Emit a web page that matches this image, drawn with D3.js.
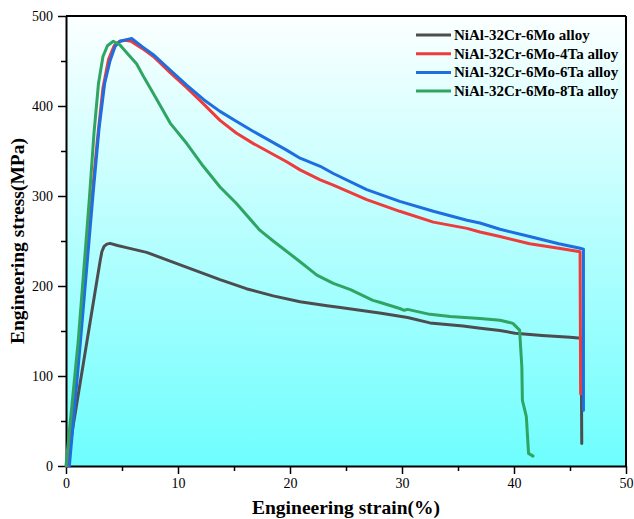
<!DOCTYPE html>
<html>
<head>
<meta charset="utf-8">
<script src="https://cdn.jsdelivr.net/npm/d3@7"></script>
<style>
  body { margin: 0; background: #fff; }
  text { font-family: "Liberation Serif", "Times New Roman", serif; }
</style>
</head>
<body>
<svg id="chart"></svg>
<script>
// series names (legend order)
const seriesNames = ['NiAl-32Cr-6Mo alloy', 'NiAl-32Cr-6Mo-4Ta alloy', 'NiAl-32Cr-6Mo-6Ta alloy', 'NiAl-32Cr-6Mo-8Ta alloy'];
const seriesColors = ['#4d4d4f', '#ef3b3b', '#1f6ee0', '#2fa563'];

// [strain %, stress MPa]
const mo6 = [[0.05,0],[3.05,228],[3.2,238],[3.4,244],[3.65,246.5],[3.93,247.4],[4.6,245],[5.4,242.6],[7.2,237.4],[9.0,229],[11.4,218],[13.75,207],[16.1,197],[18.5,189],[20.9,182.6],[23.3,178],[24.5,176],[28,170],[30.5,165],[32.5,159],[35.45,155.5],[37,153],[38.75,150.5],[40.1,147.5],[42.5,145],[45,143],[46.0,142],[46.05,25]];
const ta4 = [[0.15,0],[1.2,140],[2.3,296],[2.8,362],[3.3,420],[3.8,452],[4.3,467],[4.8,472],[5.3,473],[5.8,472],[6.8,464],[7.8,455],[9.3,437],[10.8,420],[12.3,402],[13.75,384],[15.2,370],[16.7,358.5],[19.7,338],[20.9,329],[22.7,318],[23.87,312],[26.85,296],[29.8,283],[32.8,271],[35.8,264],[36.96,260],[38.75,255],[41.4,247],[44,242],[45.9,238],[45.95,80]];
const ta6 = [[0.3,0],[1.3,140],[2.4,300],[2.95,375],[3.45,425],[3.93,450],[4.38,466],[4.82,472],[5.5,474],[5.86,475],[6.8,466],[7.8,457],[9.3,440],[10.8,423],[12.3,407],[13.75,394],[15.2,383],[16.7,372],[19.7,351],[20.9,342],[22.7,333],[23.87,325],[26.85,307],[29.8,294],[32.8,283],[35.8,273],[36.96,270],[38.75,263],[41.4,255],[44,247],[45.9,242],[46.2,241],[46.2,62]];
const ta8 = [[0,0],[1.1,140],[2.08,296],[2.5,370],[2.9,425],[3.3,455],[3.7,467],[4.22,472],[4.8,468],[5.5,458],[6.3,447],[7.0,431],[7.8,414],[9.3,381],[10.8,358],[12.26,333],[13.75,310],[15.2,292],[17.3,262],[18.5,250],[20.9,227],[22.4,212],[23.87,203],[25.4,196],[27.4,184],[28,182],[29.8,175],[30.2,173],[30.5,174],[32.5,168.5],[34.3,166],[36.96,164],[38.75,162],[39.9,158.5],[40.5,151],[40.7,110],[40.75,73],[41.1,55],[41.3,14],[41.7,11]];
const seriesData = [mo6, ta4, ta6, ta8];

const xTicks = [0, 10, 20, 30, 40, 50];
const yTicks = [0, 100, 200, 300, 400, 500];

const config = {
  width: 634, height: 519,
  margin: { top: 16, right: 8, bottom: 53, left: 66 }
};
const innerW = config.width - config.margin.left - config.margin.right;
const innerH = config.height - config.margin.top - config.margin.bottom;

const svg = d3.select('#chart')
  .attr('width', config.width)
  .attr('height', config.height);

// background gradient
const defs = svg.append('defs');
const grad = defs.append('linearGradient')
  .attr('id', 'bg').attr('x1', 0).attr('y1', 0).attr('x2', 0).attr('y2', 1);
grad.append('stop').attr('offset', '0%').attr('stop-color', '#fcffff');
grad.append('stop').attr('offset', '100%').attr('stop-color', '#6efefe');

const chart = svg.append('g')
  .attr('transform', `translate(${config.margin.left},${config.margin.top})`);

const xScale = d3.scaleLinear().domain([0, 50]).range([0, innerW]);
const yScale = d3.scaleLinear().domain([0, 500]).range([innerH, 0]);

chart.append('rect')
  .attr('width', innerW).attr('height', innerH)
  .attr('fill', 'url(#bg)');

// minor ticks
const xMinor = d3.axisBottom(xScale).tickValues(d3.range(5, 50, 10)).tickSize(5).tickFormat('');
const yMinor = d3.axisLeft(yScale).tickValues(d3.range(50, 500, 100)).tickSize(5).tickFormat('');

const xAxis = d3.axisBottom(xScale).tickValues(xTicks).tickSize(8).tickSizeOuter(0).tickPadding(4);
const yAxis = d3.axisLeft(yScale).tickValues(yTicks).tickSize(8).tickSizeOuter(0).tickPadding(5);

const styleAxis = g => {
  g.selectAll('line').attr('stroke', '#000').attr('stroke-width', 1.5);
  g.selectAll('.domain').attr('stroke', '#000').attr('stroke-width', 2);
  g.selectAll('text').attr('fill', '#000')
    .style('font-family', '"Liberation Serif", serif').style('font-size', '14px');
};

chart.append('g').attr('transform', `translate(0,${innerH})`).call(xMinor).call(styleAxis)
  .call(g => g.select('.domain').remove());
chart.append('g').call(yMinor).call(styleAxis)
  .call(g => g.select('.domain').remove());
chart.append('g').attr('transform', `translate(0,${innerH})`).call(xAxis).call(styleAxis);
chart.append('g').call(yAxis).call(styleAxis);

// top and right frame
chart.append('line').attr('x1', 0).attr('x2', innerW).attr('y1', 0).attr('y2', 0)
  .attr('stroke', '#000').attr('stroke-width', 2);
chart.append('line').attr('x1', innerW).attr('x2', innerW).attr('y1', 0).attr('y2', innerH)
  .attr('stroke', '#000').attr('stroke-width', 2);

// curves
const line = d3.line()
  .x(d => xScale(d[0]))
  .y(d => yScale(d[1]));

chart.selectAll('.curve')
  .data(seriesData)
  .join('path')
  .attr('class', 'curve')
  .attr('d', d => line(d))
  .attr('fill', 'none')
  .attr('stroke', (d, i) => seriesColors[i])
  .attr('stroke-width', 3)
  .attr('stroke-linejoin', 'round')
  .attr('stroke-linecap', 'round');

// legend
const legend = chart.append('g').attr('transform', 'translate(350,19)');
seriesNames.forEach((name, i) => {
  const row = legend.append('g').attr('transform', `translate(0,${i * 18.7})`);
  row.append('line').attr('x1', 0).attr('x2', 35).attr('y1', 0).attr('y2', 0)
    .attr('stroke', seriesColors[i]).attr('stroke-width', 3);
  row.append('text').attr('x', 38).attr('y', 5)
    .style('font-size', '15px').style('font-weight', 'bold')
    .text(name);
});

// axis titles
svg.append('text')
  .attr('x', config.margin.left + innerW / 2)
  .attr('y', 514)
  .attr('text-anchor', 'middle')
  .style('font-size', '19.5px').style('font-weight', 'bold')
  .text('Engineering strain(%)');

svg.append('text')
  .attr('transform', `translate(24,${config.margin.top + innerH / 2}) rotate(-90)`)
  .attr('text-anchor', 'middle')
  .style('font-size', '19.5px').style('font-weight', 'bold')
  .text('Engineering stress(MPa)');
</script>
</body>
</html>
